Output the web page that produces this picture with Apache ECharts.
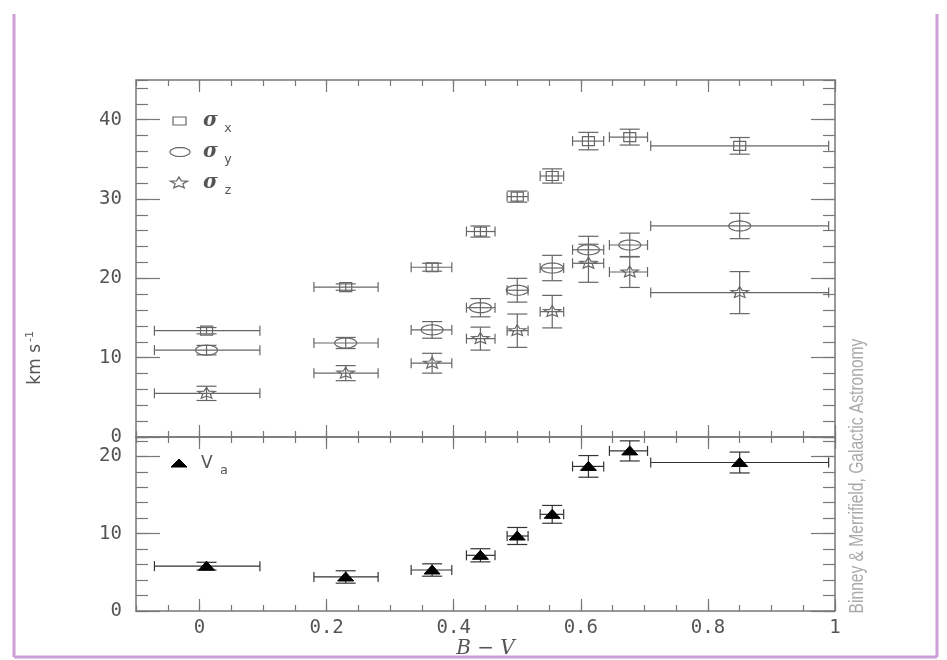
<!DOCTYPE html>
<html>
<head>
<meta charset="utf-8">
<script src="https://cdn.jsdelivr.net/npm/echarts@6/dist/echarts.min.js"></script>
<style>
html, body { margin: 0; padding: 0; background: #fff; }
#main { width: 947px; height: 660px; }
</style>
</head>
<body>
<div id="main"></div>
<script>
// B-V bins: centre and width of each colour bin
var bvMid  = [0.011, 0.230, 0.366, 0.442, 0.500, 0.555, 0.612, 0.677, 0.850];
var bvLow  = [-0.071, 0.180, 0.333, 0.420, 0.484, 0.536, 0.587, 0.645, 0.710];
var bvHigh = [0.095, 0.281, 0.397, 0.465, 0.517, 0.573, 0.636, 0.705, 0.990];

// velocity dispersions (km/s) and their errors
var sigmaX    = [13.4, 18.9, 21.4, 25.9, 30.3, 32.9, 37.3, 37.8, 36.7];
var sigmaXErr = [0.4, 0.4, 0.5, 0.7, 0.7, 0.9, 1.1, 1.0, 1.05];
var sigmaY    = [10.95, 11.85, 13.5, 16.3, 18.5, 21.3, 23.6, 24.2, 26.6];
var sigmaYErr = [0.6, 0.7, 1.05, 1.15, 1.5, 1.6, 1.7, 1.5, 1.6];
var sigmaZ    = [5.5, 8.05, 9.3, 12.4, 13.4, 15.8, 21.9, 20.8, 18.2];
var sigmaZErr = [0.9, 0.95, 1.25, 1.45, 2.1, 2.05, 2.4, 1.95, 2.65];
// asymmetric drift
var vA    = [5.8, 4.4, 5.3, 7.2, 9.7, 12.5, 18.7, 20.7, 19.2];
var vAErr = [0.5, 0.8, 0.8, 0.85, 1.1, 1.15, 1.4, 1.3, 1.35];

var xTicks = [0, 0.2, 0.4, 0.6, 0.8, 1];
var yTicksTop = [0, 10, 20, 30, 40];
var yTicksBottom = [0, 10, 20];

var AXIS_COLOR = '#777';
var LABEL_FONT = 'DejaVu Sans Mono';
var BAR_COLOR = '#666';

function buildRows(vals, errs) {
    var rows = [];
    for (var i = 0; i < vals.length; i++) {
        rows.push([bvMid[i], vals[i], bvLow[i], bvHigh[i], vals[i] - errs[i], vals[i] + errs[i]]);
    }
    return rows;
}

function starPoints(cx, cy, rx, ry) {
    var pts = [];
    for (var k = 0; k < 10; k++) {
        var a = -Math.PI / 2 + k * Math.PI / 5;
        var f = k % 2 ? 0.45 : 1;
        pts.push([cx + Math.cos(a) * rx * f, cy + Math.sin(a) * ry * f]);
    }
    return pts;
}

function ellipsePoints(cx, cy, rx, ry) {
    var pts = [];
    for (var k = 0; k < 28; k++) {
        var a = k * Math.PI * 2 / 28;
        pts.push([cx + Math.cos(a) * rx, cy + Math.sin(a) * ry]);
    }
    return pts;
}

function markerShape(kind, x, y, color) {
    if (kind === 'square') {
        return {type: 'rect', shape: {x: x - 6, y: y - 4.5, width: 12, height: 9},
                style: {fill: null, stroke: color, lineWidth: 1.2}};
    }
    if (kind === 'ellipse') {
        return {type: 'polygon', shape: {points: ellipsePoints(x, y, 11, 5)},
                style: {fill: null, stroke: color, lineWidth: 1.2}};
    }
    if (kind === 'star') {
        return {type: 'polygon', shape: {points: starPoints(x, y, 9, 6)},
                style: {fill: null, stroke: color, lineWidth: 1.2}};
    }
    // filled triangle
    return {type: 'polygon', shape: {points: [[x - 8, y + 4], [x + 8, y + 4], [x, y - 5]]},
            style: {fill: '#000', stroke: '#000', lineWidth: 1}};
}

function errorItem(kind, color) {
    return function (params, api) {
        var c = api.coord([api.value(0), api.value(1)]);
        var l = api.coord([api.value(2), api.value(1)]);
        var r = api.coord([api.value(3), api.value(1)]);
        var b = api.coord([api.value(0), api.value(4)]);
        var t = api.coord([api.value(0), api.value(5)]);
        var ls = {stroke: color, lineWidth: 1.2};
        return {
            type: 'group',
            children: [
                {type: 'line', shape: {x1: l[0], y1: c[1], x2: r[0], y2: c[1]}, style: ls},
                {type: 'line', shape: {x1: l[0], y1: c[1] - 5, x2: l[0], y2: c[1] + 5}, style: ls},
                {type: 'line', shape: {x1: r[0], y1: c[1] - 5, x2: r[0], y2: c[1] + 5}, style: ls},
                {type: 'line', shape: {x1: c[0], y1: t[1], x2: c[0], y2: b[1]}, style: ls},
                {type: 'line', shape: {x1: c[0] - 10, y1: t[1], x2: c[0] + 10, y2: t[1]}, style: ls},
                {type: 'line', shape: {x1: c[0] - 10, y1: b[1], x2: c[0] + 10, y2: b[1]}, style: ls},
                markerShape(kind, c[0], c[1], color)
            ]
        };
    };
}

function xAxisFor(grid, pos, major, labels) {
    var tickStyle = {color: AXIS_COLOR, width: 1.2};
    var ax = {
        type: 'value', gridIndex: grid, position: pos, min: -0.1, max: 1,
        axisLine: {show: major, onZero: false, lineStyle: {color: AXIS_COLOR, width: 1.5}},
        axisTick: major ? {inside: true, length: 12, customValues: xTicks, lineStyle: tickStyle}
                        : {inside: true, length: 6, lineStyle: tickStyle},
        axisLabel: {show: false},
        splitLine: {show: false}
    };
    if (!major) ax.interval = 0.05;
    if (labels) {
        ax.axisLabel = {
            show: true, customValues: xTicks, margin: 8,
            color: '#555', fontFamily: LABEL_FONT, fontSize: 19,
            formatter: function (v) { return String(v); }
        };
    }
    return ax;
}

function yAxisFor(grid, pos, major, top, ticks, labels) {
    var tickStyle = {color: AXIS_COLOR, width: 1.2};
    var ax = {
        type: 'value', gridIndex: grid, position: pos, min: 0, max: top,
        axisLine: {show: major, onZero: false, lineStyle: {color: AXIS_COLOR, width: 1.5}},
        axisTick: major ? {inside: true, length: 24, customValues: ticks, lineStyle: tickStyle}
                        : {inside: true, length: 12, lineStyle: tickStyle},
        axisLabel: {show: false},
        splitLine: {show: false}
    };
    if (!major) ax.interval = 2;
    if (labels) {
        ax.axisLabel = {
            show: true, customValues: ticks, margin: 14,
            color: '#555', fontFamily: LABEL_FONT, fontSize: 19
        };
    }
    return ax;
}

var chart = echarts.init(document.getElementById('main'));

var xAxes = [
    xAxisFor(0, 'bottom', true, false), xAxisFor(0, 'bottom', false, false),
    xAxisFor(0, 'top', true, false), xAxisFor(0, 'top', false, false),
    xAxisFor(1, 'bottom', true, true), xAxisFor(1, 'bottom', false, false),
    xAxisFor(1, 'top', true, false), xAxisFor(1, 'top', false, false)
];
xAxes[4].name = 'B \u2212 V';
xAxes[4].nameLocation = 'middle';
xAxes[4].nameGap = 28;
xAxes[4].nameTextStyle = {fontFamily: 'DejaVu Serif', fontStyle: 'italic', fontSize: 20, color: '#555'};

var yAxes = [
    yAxisFor(0, 'left', true, 45, yTicksTop, true), yAxisFor(0, 'left', false, 45, yTicksTop, false),
    yAxisFor(0, 'right', true, 45, yTicksTop, false), yAxisFor(0, 'right', false, 45, yTicksTop, false),
    yAxisFor(1, 'left', true, 22.5, yTicksBottom, true), yAxisFor(1, 'left', false, 22.5, yTicksBottom, false),
    yAxisFor(1, 'right', true, 22.5, yTicksBottom, false), yAxisFor(1, 'right', false, 22.5, yTicksBottom, false)
];

var legendText = {fontFamily: 'DejaVu Serif', fontStyle: 'italic', fontWeight: 'bold', fontSize: 20, fill: '#555'};
var subText = {fontFamily: 'DejaVu Sans Mono', fontSize: 13, fill: '#555'};

var option = {
    animation: false,
    backgroundColor: '#fff',
    grid: [
        {left: 136, top: 80, width: 699, height: 357},
        {left: 136, top: 437, width: 699, height: 178}
    ],
    xAxis: xAxes,
    yAxis: yAxes,
    series: [
        {type: 'custom', name: 'sigma_x', xAxisIndex: 0, yAxisIndex: 0, clip: false,
         renderItem: errorItem('square', BAR_COLOR), data: buildRows(sigmaX, sigmaXErr)},
        {type: 'custom', name: 'sigma_y', xAxisIndex: 0, yAxisIndex: 0, clip: false,
         renderItem: errorItem('ellipse', BAR_COLOR), data: buildRows(sigmaY, sigmaYErr)},
        {type: 'custom', name: 'sigma_z', xAxisIndex: 0, yAxisIndex: 0, clip: false,
         renderItem: errorItem('star', BAR_COLOR), data: buildRows(sigmaZ, sigmaZErr)},
        {type: 'custom', name: 'v_a', xAxisIndex: 4, yAxisIndex: 4, clip: false,
         renderItem: errorItem('triangle', '#333'), data: buildRows(vA, vAErr)}
    ],
    graphic: [
        // frame
        {type: 'line', shape: {x1: 14, y1: 14, x2: 14, y2: 657}, style: {stroke: '#cc9fd6', lineWidth: 3}},
        {type: 'line', shape: {x1: 937, y1: 14, x2: 937, y2: 657}, style: {stroke: '#cc9fd6', lineWidth: 3}},
        {type: 'line', shape: {x1: 14, y1: 657, x2: 937, y2: 657}, style: {stroke: '#cc9fd6', lineWidth: 3}},
        // legend, upper panel
        {type: 'rect', shape: {x: 173, y: 117, width: 13, height: 8}, style: {fill: null, stroke: '#666', lineWidth: 1.2}},
        {type: 'text', x: 203, y: 121, style: Object.assign({text: '\u03c3', verticalAlign: 'middle'}, legendText)},
        {type: 'text', x: 224, y: 129, style: Object.assign({text: 'x', verticalAlign: 'middle'}, subText)},
        {type: 'polygon', shape: {points: ellipsePoints(180, 152, 10, 4.5)}, style: {fill: null, stroke: '#666', lineWidth: 1.2}},
        {type: 'text', x: 203, y: 152, style: Object.assign({text: '\u03c3', verticalAlign: 'middle'}, legendText)},
        {type: 'text', x: 224, y: 160, style: Object.assign({text: 'y', verticalAlign: 'middle'}, subText)},
        {type: 'polygon', shape: {points: starPoints(179, 183, 9, 6)}, style: {fill: null, stroke: '#666', lineWidth: 1.2}},
        {type: 'text', x: 203, y: 183, style: Object.assign({text: '\u03c3', verticalAlign: 'middle'}, legendText)},
        {type: 'text', x: 224, y: 191, style: Object.assign({text: 'z', verticalAlign: 'middle'}, subText)},
        // legend, lower panel
        {type: 'polygon', shape: {points: [[171, 467], [187, 467], [179, 459]]}, style: {fill: '#000', stroke: '#000'}},
        {type: 'text', x: 201, y: 464, style: {text: 'V', verticalAlign: 'middle', fontFamily: 'DejaVu Sans', fontSize: 17, fill: '#555'}},
        {type: 'text', x: 220, y: 471, style: Object.assign({text: 'a', verticalAlign: 'middle'}, subText)},
        // y axis title
        {type: 'group', x: 36, y: 348, rotation: Math.PI / 2, children: [
            {type: 'text', x: 4, y: 0, style: {text: 'km s', textAlign: 'right', verticalAlign: 'middle', fontFamily: 'DejaVu Sans', fontSize: 17, fill: '#555'}},
            {type: 'text', x: 6, y: -6, style: {text: '-1', textAlign: 'left', verticalAlign: 'middle', fontFamily: 'DejaVu Sans', fontSize: 11, fill: '#555'}}
        ]},
        // credit line
        {type: 'group', x: 857, y: 476, rotation: Math.PI / 2, children: [
            {type: 'text', x: 0, y: 0, scaleX: 0.78, style: {
                text: 'Binney & Merrifield, Galactic Astronomy', textAlign: 'center', verticalAlign: 'middle',
                fontFamily: 'Liberation Sans', fontSize: 20, fill: '#aaa'}}
        ]}
    ]
};

chart.setOption(option);
</script>
</body>
</html>
